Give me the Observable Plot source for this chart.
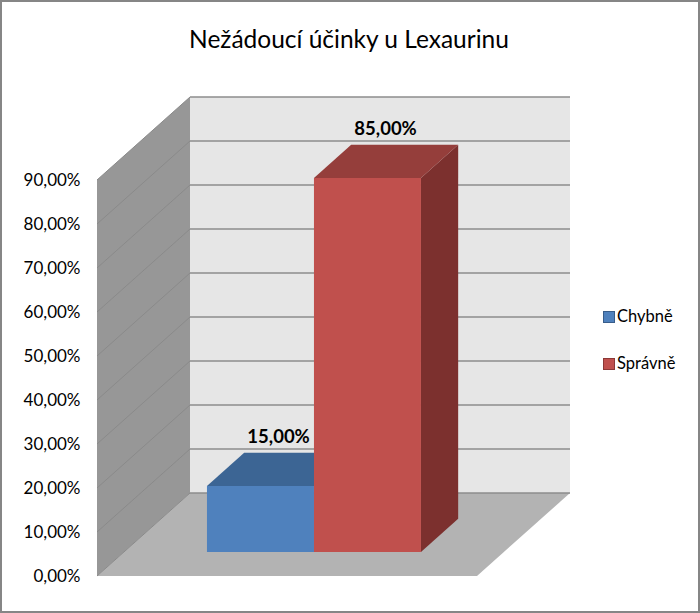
<!DOCTYPE html>
<html>
<head>
<meta charset="utf-8">
<script src="https://cdn.jsdelivr.net/npm/d3@7"></script>
<script src="https://cdn.jsdelivr.net/npm/@observablehq/plot@0.6"></script>
<style>
  body { margin: 0; background: #fff; }
  #chart { position: relative; width: 700px; height: 613px; overflow: hidden; font-family: Lato, "Open Sans", sans-serif; color: #000; }
  #chart svg { position: absolute; left: 0; top: 0; }
  #title { position: absolute; left: 0; top: 27px; width: 698px; text-align: center; font-size: 24.5px; line-height: 24px; white-space: nowrap; }
  .lg-sw { position: absolute; width: 10px; height: 10px; }
  .lg-tx { position: absolute; font-size: 16.5px; line-height: 16px; white-space: nowrap; }
  #border { position: absolute; left: 0; top: 0; width: 700px; height: 613px; box-sizing: border-box; border: 2px solid #868686; pointer-events: none; }
</style>
</head>
<body>
<div id="chart"></div>
<script>
// ---- data ----
const categories = ["Chybně", "Správně"];
const values = [0.15, 0.85];
const yTicks = [0, 0.1, 0.2, 0.3, 0.4, 0.5, 0.6, 0.7, 0.8, 0.9];
const titleText = "Nežádoucí účinky u Lexaurinu";

// ---- styles ----
const frontColors = ["#4f81bd", "#c0504d"];
const topColors = ["#3c6594", "#953e3b"];
const sideColors = ["#385f8c", "#7c302e"];
const swatchBorders = ["#385d8a", "#8c3836"];
const wallDepth = [93, -83];      // pixel offset of the back wall
const barDepth = [0.29, 0.69];    // bar front/back as fraction of the depth

const table = categories.map((cat, i) => ({cat, val: values[i], i}));
const fmt = d3.formatLocale({decimal: ",", thousands: "\u00a0", grouping: [3], currency: ["", "\u00a0Kč"]}).format(".2%");

function polygon(g, pts, fill) {
  g.append("path")
    .attr("d", "M" + pts.map(p => p[0] + "," + p[1]).join("L") + "Z")
    .attr("fill", fill);
}

const walls = Plot.frame({
  stroke: "none",
  render(index, scales, values, dims) {
    const Y = scales.y;
    const x0 = dims.marginLeft, x1 = dims.width - dims.marginRight;
    const [ox, oy] = wallDepth;
    const y0 = Y(0), yt = Y(yTicks[yTicks.length - 1]);
    const g = d3.create("svg:g");
    polygon(g, [[x0, y0], [x1, y0], [x1 + ox, y0 + oy], [x0 + ox, y0 + oy]], "#b3b3b3");
    polygon(g, [[x0, y0], [x0, yt], [x0 + ox, yt + oy], [x0 + ox, y0 + oy]], "#979797");
    polygon(g, [[x0 + ox, yt + oy], [x1 + ox, yt + oy], [x1 + ox, y0 + oy], [x0 + ox, y0 + oy]], "#e6e6e6");
    for (const t of yTicks) {
      const y = Y(t);
      g.append("line")
        .attr("x1", x0 + ox).attr("x2", x1 + ox)
        .attr("y1", y + oy).attr("y2", y + oy)
        .attr("stroke", "#8c8c8c").attr("stroke-width", 1.5);
      g.append("line")
        .attr("x1", x0).attr("x2", x0 + ox)
        .attr("y1", y).attr("y2", y + oy)
        .attr("stroke", "#8a8a8a").attr("stroke-width", 1);
    }
    return g.node();
  }
});

const bars = Plot.barY(table, {
  x: "cat",
  y: "val",
  render(index, scales, values, dims) {
    const X = scales.x, Y = scales.y;
    const bw = X.bandwidth();
    const fx = wallDepth[0] * barDepth[0], fy = wallDepth[1] * barDepth[0];
    const bx = wallDepth[0] * barDepth[1], by = wallDepth[1] * barDepth[1];
    const g = d3.create("svg:g");
    for (const i of index) {
      const d = table[i];
      const xl = X(d.cat), xr = xl + bw;
      const yv = Y(d.val), yb = Y(0);
      polygon(g, [[xr + fx, yv + fy], [xr + bx, yv + by], [xr + bx, yb + by], [xr + fx, yb + fy]], sideColors[d.i]);
      polygon(g, [[xl + fx, yv + fy], [xr + fx, yv + fy], [xr + fx, yb + fy], [xl + fx, yb + fy]], frontColors[d.i]);
      polygon(g, [[xl + fx, yv + fy], [xr + fx, yv + fy], [xr + bx, yv + by], [xl + bx, yv + by]], topColors[d.i]);
    }
    return g.node();
  }
});

const plot = Plot.plot({
  width: 700,
  height: 613,
  marginLeft: 97,
  marginRight: 223,
  marginTop: 180,
  marginBottom: 37,
  style: {fontFamily: "Lato, 'Open Sans', sans-serif", fontSize: "17px", color: "#000", background: "transparent", overflow: "visible"},
  x: {type: "band", domain: categories, paddingInner: 0, paddingOuter: 0.76, align: 0.5, axis: null},
  y: {domain: [0, 0.9]},
  marks: [
    walls,
    bars,
    Plot.axisY({ticks: yTicks, tickFormat: fmt, tickSize: 0, tickPadding: 17, label: null, fontSize: 17, fill: "#000"}),
    Plot.text(table, {
      x: "cat", y: "val", text: d => fmt(d.val),
      dx: wallDepth[0] * (barDepth[0] + barDepth[1]) / 2 - 1,
      dy: wallDepth[1] * barDepth[1] - 10,
      lineAnchor: "bottom", fontWeight: "bold", fontSize: 18.5, fill: "#000"
    })
  ]
});

const chart = document.getElementById("chart");
chart.appendChild(plot);

const t = document.createElement("div");
t.id = "title";
t.textContent = titleText;
chart.appendChild(t);

categories.forEach((c, i) => {
  const sw = document.createElement("div");
  sw.className = "lg-sw";
  sw.style.left = "603px";
  sw.style.top = (311 + i * 47) + "px";
  sw.style.background = frontColors[i];
  sw.style.border = "1px solid " + swatchBorders[i];
  chart.appendChild(sw);
  const tx = document.createElement("div");
  tx.className = "lg-tx";
  tx.style.left = "617px";
  tx.style.top = (308 + i * 47) + "px";
  tx.textContent = c;
  chart.appendChild(tx);
});

const b = document.createElement("div");
b.id = "border";
chart.appendChild(b);
</script>
</body>
</html>
